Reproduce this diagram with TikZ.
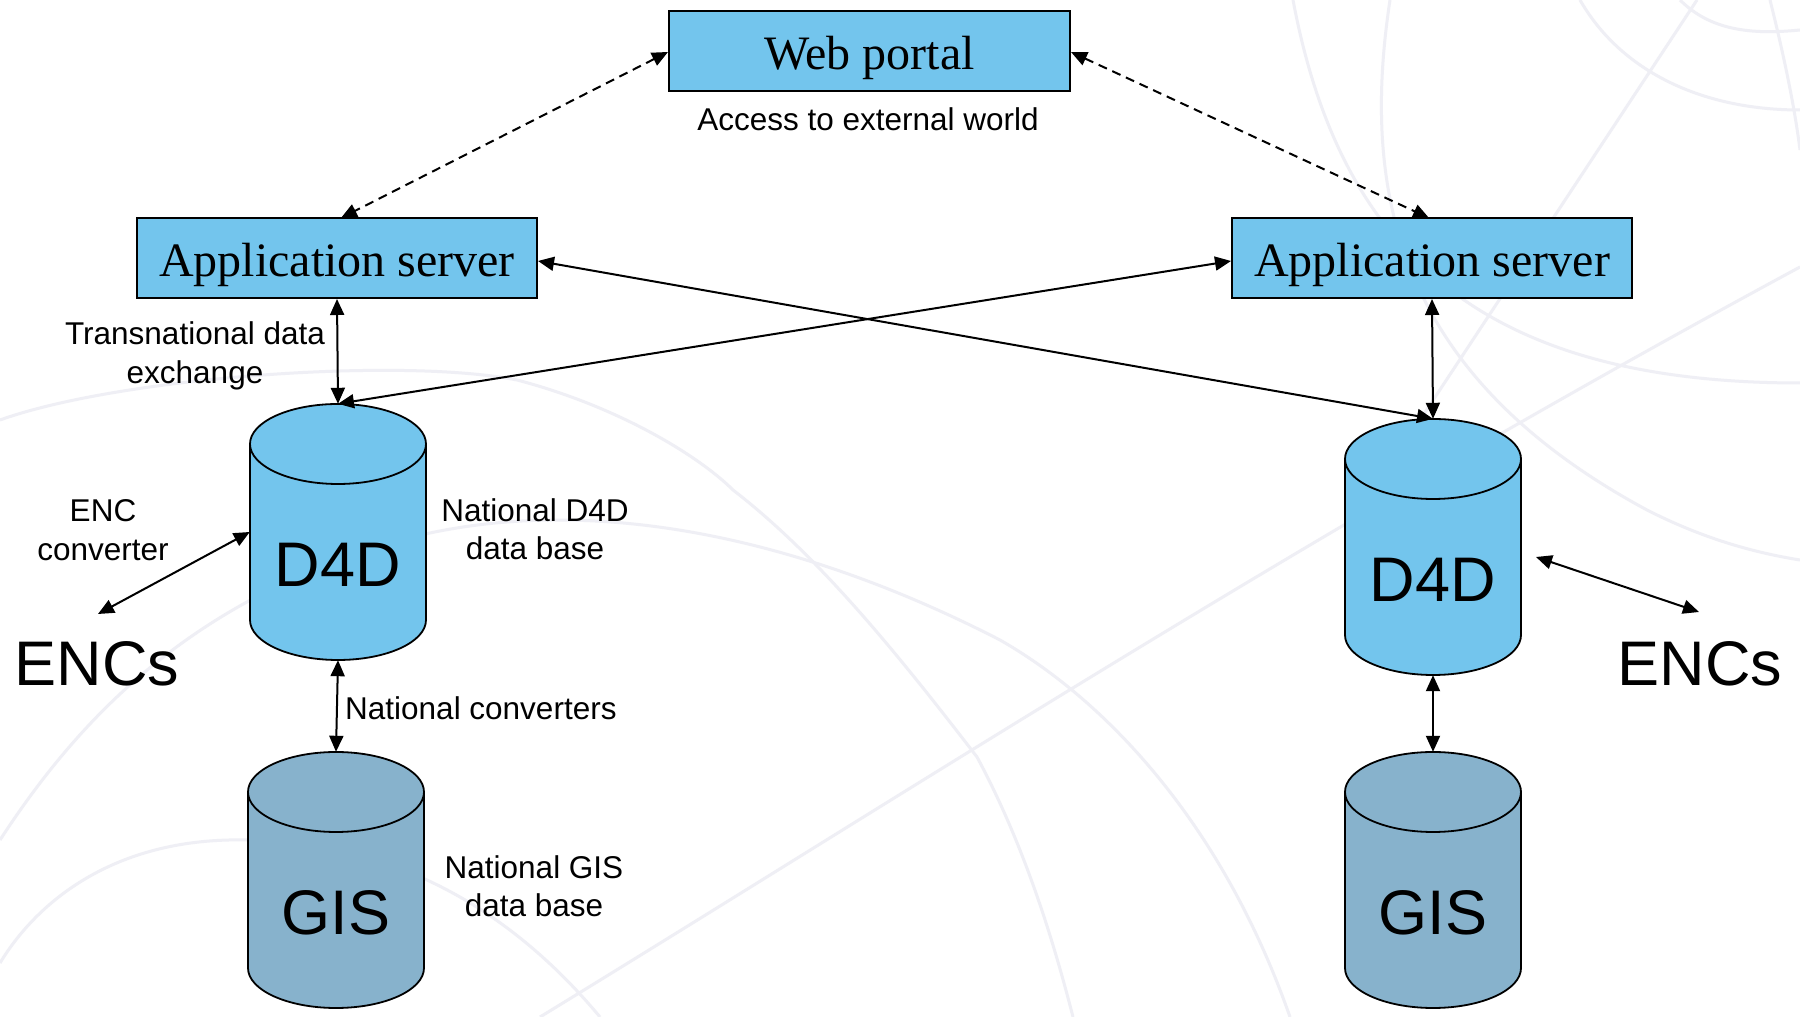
\documentclass[tikz,border=0pt]{standalone}
\usepackage{fontspec}
\setmainfont{Liberation Serif}
\setsansfont{Liberation Sans}
\usetikzlibrary{arrows.meta,calc}
\definecolor{boxblue}{RGB}{115,197,237}
\definecolor{gisblue}{RGB}{135,178,204}
\definecolor{bgarc}{RGB}{239,239,245}
\tikzset{
  srvbox/.style={draw=black, line width=2pt, fill=boxblue, minimum width=400pt, minimum height=80pt, inner sep=0pt},
  srvtext/.style={font=\fontsize{48}{54}\selectfont, inner sep=0pt},
  lbl/.style={font=\sffamily\fontsize{31.5}{38.5}\selectfont, align=center, inner sep=0pt},
  big/.style={font=\sffamily\fontsize{63}{70}\selectfont, inner sep=0pt},
  conn/.style={line width=2pt, arrows={Triangle[length=16pt,width=14pt]-Triangle[length=16pt,width=14pt]}},
  dconn/.style={conn, dash pattern=on 9pt off 6pt},
  cylbody/.style={draw=black, line width=1.8pt},
  bgline/.style={draw=bgarc, line width=3pt}
}
% #1 name, #2 cx, #3 Ytop, #4 Ybot, #5 colour
\newcommand{\dbcylinder}[5]{%
  \path[cylbody, fill=#5] (#2-88,#3-40) -- (#2-88,#4+40)
     arc[start angle=180, end angle=360, x radius=88pt, y radius=40pt]
     -- (#2+88,#3-40)
     arc[start angle=0, end angle=180, x radius=88pt, y radius=40pt] -- cycle;
  \draw[cylbody] (#2-88,#3-40) arc[start angle=180, end angle=360, x radius=88pt, y radius=40pt];
  \node[inner sep=0pt, minimum width=176pt, minimum height=#3-#4] (#1) at (#2,{(#3+#4)/2}) {};
}
\begin{document}
\begin{tikzpicture}[x=1pt,y=1pt]
\useasboundingbox (0,0) rectangle (1800,1017);
\fill[white] (0,0) rectangle (1800,1017);
% faint background arcs (y measured upward: Y = 1017 - y)
\draw[bgline] (0,597) .. controls (120,640) and (400,660) .. (517,637)
  .. controls (620,610) and (700,560) .. (733,527)
  .. controls (820,460) and (900,360) .. (977,260)
  .. controls (1020,180) and (1050,90) .. (1073,0);
\draw[bgline] (0,177) .. controls (80,300) and (200,430) .. (430,484)
  .. controls (600,520) and (800,480) .. (1000,377)
  .. controls (1100,320) and (1220,200) .. (1290,0);
\draw[bgline] (0,54) .. controls (40,120) and (120,180) .. (247,177)
  .. controls (380,175) and (500,120) .. (600,0);
\draw[bgline] (540,0) .. controls (900,220) and (1300,480) .. (1800,750);
\draw[bgline] (1293,1017) .. controls (1340,767) and (1480,634) .. (1800,634);
\draw[bgline] (1390,1017) .. controls (1360,820) and (1400,640) .. (1647,507)
  .. controls (1700,480) and (1750,465) .. (1800,457);
\draw[bgline] (1580,1017) .. controls (1620,947) and (1700,907) .. (1800,907);
\draw[bgline] (1680,1017) .. controls (1710,987) and (1750,982) .. (1800,987);
\draw[bgline] (1770,1017) .. controls (1785,957) and (1795,907) .. (1800,867);
\draw[bgline] (1697,1017) -- (1420,597);
% boxes
\node[srvbox, minimum width=401pt] (web) at (869.5,966) {};
\node[srvtext] (webt) at (869.5,959) {Web portal};
\node[lbl] (webl) at (868,898) {Access to external world};
\node[srvbox] (appL) at (337,759) {};
\node[srvtext] (appLt) at (337,752) {Application server};
\node[srvbox] (appR) at (1432,759) {};
\node[srvtext] (appRt) at (1432,752) {Application server};
% cylinders
\dbcylinder{d4dL}{338}{613}{357}{boxblue}
\dbcylinder{d4dR}{1433}{598}{342}{boxblue}
\dbcylinder{gisL}{336}{265}{9}{gisblue}
\dbcylinder{gisR}{1433}{265}{9}{gisblue}
\node[big] (d4dLt) at (338,452) {D4D};
\node[big] (d4dRt) at (1433,437) {D4D};
\node[big] (gisLt) at (336,104) {GIS};
\node[big] (gisRt) at (1433,104) {GIS};
\node[big] (encL) at (97,353) {ENCs};
\node[big] (encR) at (1700,353) {ENCs};
% labels
\node[lbl] (ltrans) at (195,661) {Transnational data\\exchange};
\node[lbl] (lencc) at (103,487) {ENC\\converter};
\node[lbl] (lnd4d) at (535,488) {National D4D\\data base};
\node[lbl, anchor=west] (lnconv) at (345,309) {National converters};
\node[lbl] (lngis) at (534,131) {National GIS\\data base};
% connectors
\coordinate (encLend) at (98,403);
\coordinate (encRend) at (1699,405);
\coordinate (d4dRside) at (1536,460);
\draw[dconn] (web.west |- 0,965) -- (341,799);
\draw[dconn] (web.east |- 0,965) -- (1429,799);
\draw[conn] (appL.south) -- (d4dL.north);
\draw[conn] (appR.south) -- (d4dR.north);
\draw[conn] (appL.east |- 0,756) -- (d4dR.north);
\draw[conn] (appR.west |- 0,756) -- (d4dL.north);
\draw[conn] (d4dL.west) -- (encLend);
\draw[conn] (d4dRside) -- (encRend);
\draw[conn] (d4dL.south) -- (gisL.north);
\draw[conn] (d4dR.south) -- (gisR.north);
\end{tikzpicture}
\end{document}
